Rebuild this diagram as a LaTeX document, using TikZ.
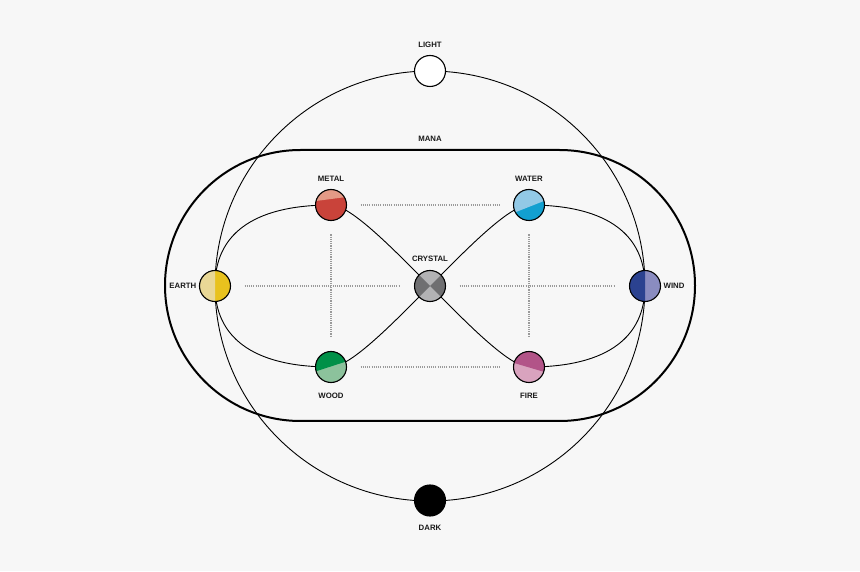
\documentclass[tikz,border=0pt]{standalone}
\usepackage{fontspec}
\setmainfont{Liberation Sans}
\usetikzlibrary{calc}
\definecolor{bg}{HTML}{F7F7F7}
\definecolor{metalL}{HTML}{E39A86}
\definecolor{metalD}{HTML}{C9433A}
\definecolor{waterL}{HTML}{92C9E6}
\definecolor{waterD}{HTML}{12A0D0}
\definecolor{woodD}{HTML}{009048}
\definecolor{woodL}{HTML}{8CC29C}
\definecolor{fireD}{HTML}{B25488}
\definecolor{fireL}{HTML}{D9A3BE}
\definecolor{earthL}{HTML}{E9D896}
\definecolor{earthD}{HTML}{E8C21E}
\definecolor{windD}{HTML}{2B4290}
\definecolor{windL}{HTML}{8A8CC0}
\definecolor{crysL}{HTML}{B2B2B4}
\definecolor{crysD}{HTML}{6F6F71}
\definecolor{dotc}{HTML}{9A9A9A}
\newcommand{\rb}{15.5}
\newcommand{\splitball}[5]{% center, start angle, end angle, top colour, base colour
  \fill[#5] (#1) circle[radius=\rb];
  \fill[#4] ($(#1)+(#2:\rb)$) arc[start angle=#2, end angle=#3, radius=\rb] -- cycle;
  \draw[ballline] (#1) circle[radius=\rb];
}
\begin{document}
\begin{tikzpicture}[x=1pt,y=1pt,
  ballline/.style={line width=1.1pt},
  ball/.style={circle, minimum size=31pt, inner sep=0pt, outer sep=0pt},
  curve/.style={line width=0.9pt},
  dotline/.style={dotc, line width=1.1pt, dash pattern=on 1.1pt off 1.1pt, shorten <=14pt, shorten >=14pt},
  lbl/.style={font=\fontsize{7.8}{8}\selectfont\bfseries, inner sep=0pt, text height=5.6pt, text depth=0pt, text=black!90}]
\fill[bg] (0,0) rectangle (860,571);
\useasboundingbox (0,0) rectangle (860,571);
% centres
\coordinate (O) at (430,285);
\coordinate (L) at (430,500);
\coordinate (K) at (430,70.5);
\coordinate (E) at (215,285);
\coordinate (N) at (645,285);
\coordinate (C) at (430,285);
\coordinate (M) at (331,366);
\coordinate (W) at (529,366);
\coordinate (D) at (331,204);
\coordinate (F) at (529,204);
% big circle
\draw[curve] (O) circle[radius=215];
% mana stadium
\draw[line width=2pt] (300.5,421) -- (559.5,421) arc[start angle=90, end angle=-90, radius=135.5]
  -- (300.5,150) arc[start angle=270, end angle=90, radius=135.5] -- cycle;
% infinity curve
\draw[curve] (E) .. controls +(0,50) and +(-80,0) .. (M)
  .. controls +(20,0) and +(-35,35) .. (C)
  .. controls +(35,-35) and +(-20,0) .. (F)
  .. controls +(80,0) and +(0,-50) .. (N)
  .. controls +(0,50) and +(80,0) .. (W)
  .. controls +(-20,0) and +(35,35) .. (C)
  .. controls +(-35,-35) and +(20,0) .. (D)
  .. controls +(-80,0) and +(0,-50) .. (E);
% named balls (borders)
\node[ball] (light) at (L) {};
\node[ball] (dark) at (K) {};
\node[ball] (earth) at (E) {};
\node[ball] (wind) at (N) {};
\node[ball] (crystal) at (C) {};
\node[ball] (metal) at (M) {};
\node[ball] (water) at (W) {};
\node[ball] (wood) at (D) {};
\node[ball] (fire) at (F) {};
% dotted links
\draw[dotline] (metal) -- (water);
\draw[dotline] (wood) -- (fire);
\draw[dotline] (earth) -- (crystal);
\draw[dotline] (crystal) -- (wind);
\draw[dotline] (metal) -- (wood);
\draw[dotline] (water) -- (fire);
% balls
\fill[white] (L) circle[radius=\rb]; \draw[ballline] (L) circle[radius=\rb];
\fill[black] (K) circle[radius=\rb]; \draw[ballline] (K) circle[radius=\rb];
\splitball{M}{165}{30}{metalL}{metalD}
\splitball{W}{208}{15}{waterL}{waterD}
\splitball{D}{196}{20}{woodD}{woodL}
\splitball{F}{165}{-18}{fireD}{fireL}
\splitball{E}{90}{270}{earthL}{earthD}
\splitball{N}{90}{270}{windD}{windL}
\fill[crysL] (C) circle[radius=\rb];
\fill[crysD] (C) -- ($(C)+(135:\rb)$) arc[start angle=135, end angle=225, radius=\rb] -- cycle;
\fill[crysD] (C) -- ($(C)+(45:\rb)$) arc[start angle=45, end angle=-45, radius=\rb] -- cycle;
\draw[ballline] (C) circle[radius=\rb];
% labels
\node[lbl] at (430,526.5) {LIGHT};
\node[lbl] at (430,432.5) {MANA};
\node[lbl] at (331,392.5) {METAL};
\node[lbl] at (529,392.5) {WATER};
\node[lbl] at (430,312) {CRYSTAL};
\node[lbl, anchor=east] at (196.5,285) {EARTH};
\node[lbl, anchor=west] at (663.5,285) {WIND};
\node[lbl] at (331,175.5) {WOOD};
\node[lbl] at (529,175.5) {FIRE};
\node[lbl] at (430,43.5) {DARK};
\end{tikzpicture}
\end{document}
